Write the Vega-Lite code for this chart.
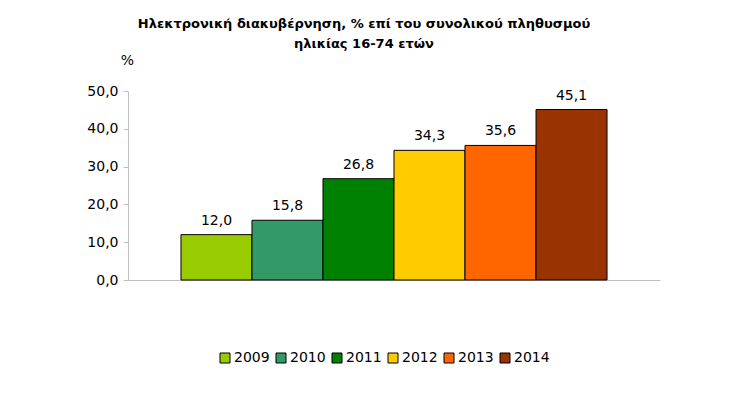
{
  "$schema": "https://vega.github.io/schema/vega-lite/v6.json",
  "autosize": "none",
  "width": 532,
  "height": 189,
  "padding": {"left": 128, "top": 91, "right": 79, "bottom": 114},
  "config": {
    "locale": {"number": {"decimal": ",", "thousands": ".", "grouping": [3], "currency": ["", " €"]}},
    "font": "DejaVu Sans",
    "view": {"stroke": null}
  },
  "title": {
    "text": ["Ηλεκτρονική διακυβέρνηση, % επί του συνολικού πληθυσμού", "ηλικίας 16-74 ετών"],
    "font": "DejaVu Sans",
    "fontSize": 13,
    "fontWeight": "bold",
    "color": "#000000",
    "anchor": "middle",
    "frame": "group",
    "dx": -30,
    "offset": 2,
    "lineHeight": 20
  },
  "data": {
    "values": [
      {"year": "2009", "value": 12.0},
      {"year": "2010", "value": 15.8},
      {"year": "2011", "value": 26.8},
      {"year": "2012", "value": 34.3},
      {"year": "2013", "value": 35.6},
      {"year": "2014", "value": 45.1}
    ]
  },
  "encoding": {
    "x": {
      "field": "year",
      "type": "nominal",
      "scale": {"paddingInner": 0, "paddingOuter": 0.746},
      "axis": {"labels": false, "ticks": false, "title": null, "domainColor": "#c0c0c0", "domainWidth": 1}
    },
    "y": {
      "field": "value",
      "type": "quantitative",
      "scale": {"domain": [0, 50]},
      "axis": {
        "values": [0, 10, 20, 30, 40, 50],
        "format": ".1f",
        "grid": false,
        "domainColor": "#c0c0c0",
        "tickColor": "#c0c0c0",
        "tickSize": 5,
        "labelPadding": 5,
        "labelFontSize": 14,
        "labelColor": "#000000",
        "title": "%",
        "titleAngle": 0,
        "titleFontSize": 14,
        "titleFontWeight": "normal",
        "titleColor": "#000000",
        "titleAlign": "center",
        "titleBaseline": "middle",
        "titleX": -1,
        "titleY": -31
      }
    }
  },
  "layer": [
    {
      "mark": {"type": "bar", "stroke": "#000000", "strokeWidth": 1},
      "encoding": {
        "color": {
          "field": "year",
          "type": "nominal",
          "scale": {"domain": ["2009", "2010", "2011", "2012", "2013", "2014"], "range": ["#99CC00", "#339966", "#008000", "#FFCC00", "#FF6600", "#993300"]},
          "legend": {
            "orient": "none",
            "direction": "horizontal",
            "columns": 6,
            "legendX": 90,
            "legendY": 260,
            "title": null,
            "symbolType": "square",
            "symbolSize": 100,
            "symbolStrokeColor": "#000000",
            "symbolStrokeWidth": 1,
            "labelFontSize": 14,
            "labelColor": "#000000",
            "labelOffset": 2,
            "columnPadding": 4
          }
        }
      }
    },
    {
      "mark": {"type": "text", "baseline": "bottom", "dy": -7, "fontSize": 14, "color": "#000000"},
      "encoding": {
        "text": {"field": "value", "type": "quantitative", "format": ".1f"}
      }
    }
  ]
}
